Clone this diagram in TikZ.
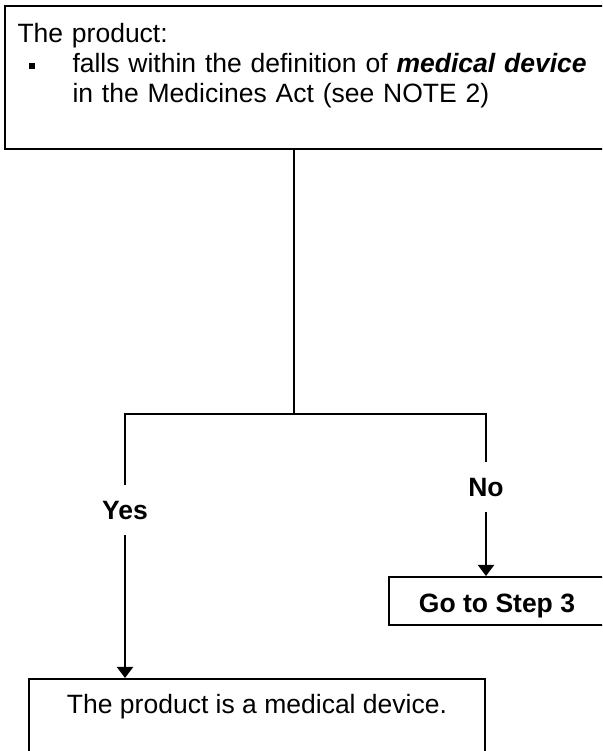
\documentclass[tikz,border=0pt]{standalone}
\usepackage{fontspec}
\setmainfont{Liberation Sans}
\usetikzlibrary{arrows.meta}
\newcommand\flowfont{\fontsize{26.5}{30}\selectfont}

\begin{document}
\begin{tikzpicture}[
  x=1pt,
  y=1pt,
  >={Triangle[length=11pt,width=16pt]},
  flowline/.style={line width=2pt},
  flowbox/.style={draw,line width=2pt,inner sep=0pt,font=\flowfont},
  answer/.style={font=\flowfont\bfseries,inner sep=0pt,minimum height=50pt,
    text height=19pt,text depth=0pt}
]

% Page frame
\useasboundingbox (0,0) rectangle (602,751);
\clip (0,0) rectangle (602,751);
\fill[white] (0,0) rectangle (602,751);

% Question box, cut off at the right edge
\node[flowbox,anchor=north west,inner xsep=12.5pt,inner ysep=17.6pt,
  text width=600pt,align=left] (topbox) at (4,746)
  {The product:\\
   \makebox[55pt][l]{\hspace*{11pt}\raisebox{4pt}{\rule{6pt}{6pt}}}falls
   within the definition of \textbf{\textit{medical device}}\\
   \hspace*{55pt}in the Medicines Act (see NOTE 2)\rule[-28.4pt]{0pt}{1pt}};

% Outcomes
\node[flowbox,font=\flowfont\bfseries,minimum width=216pt,minimum height=48pt,
  text height=24pt,text depth=0pt] (gostep) at (497,150) {Go to Step 3};
\node[flowbox,anchor=north,minimum width=456pt,
  text height=35pt,text depth=60pt] (result) at (257,73)
  {The product is a medical device.};

% Branch labels
\node[answer] (yes) at (125,241) {Yes};
\node[answer] (no) at (486,264) {No};
\coordinate (split) at (294,337);

% Connectors
\draw[flowline] (topbox.south -| split) -- (split);
\draw[flowline] (yes) -- (yes |- split) -- (no |- split) -- (no);
\draw[flowline,->] (yes) -- (yes |- result.north);
\draw[flowline,->] (no) -- (no |- gostep.north);

\end{tikzpicture}
\end{document}
